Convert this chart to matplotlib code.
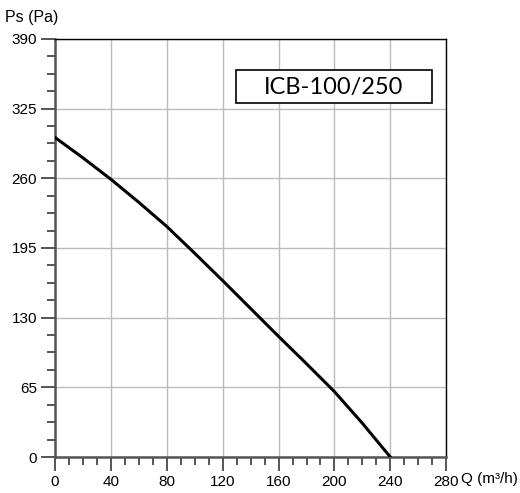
import numpy as np
import matplotlib.pyplot as plt
from matplotlib.patches import Rectangle
from matplotlib.ticker import MultipleLocator

# curve data
q = [0, 20, 40, 60, 80, 100, 120, 140, 160, 180, 200, 220, 240]
ps = [298, 279, 259, 237.5, 215, 190, 164.5, 138.5, 112.5, 87, 61, 31.5, 0]

x_ticks = [0, 40, 80, 120, 160, 200, 240, 280]
y_ticks = [0, 65, 130, 195, 260, 325, 390]
model = "ICB-100/250"

plt.rcParams['font.family'] = ['Liberation Sans', 'DejaVu Sans']

fig = plt.figure(figsize=(5.2, 4.93), dpi=100)
ax = fig.add_axes([0.106, 0.073, 0.752, 0.848])

ax.plot(q, ps, color='black', lw=2.2, solid_capstyle='round', zorder=3)

ax.set_xlim(0, 280)
ax.set_ylim(0, 390)
ax.set_xticks(x_ticks)
ax.set_yticks(y_ticks)
ax.xaxis.set_minor_locator(MultipleLocator(10))
ax.yaxis.set_minor_locator(MultipleLocator(65 / 4))

ax.grid(True, which='major', color='#bbbbbb', lw=1.0)
ax.set_axisbelow(True)

ax.tick_params(axis='both', which='major', direction='out', length=10, width=1.4,
               color='#555555', labelsize=11, pad=3)
ax.tick_params(axis='both', which='minor', direction='out', length=6, width=1.4,
               color='#555555')

for s in ['left', 'bottom']:
    ax.spines[s].set_color('#555555')
    ax.spines[s].set_linewidth(1.8)
for s in ['top', 'right']:
    ax.spines[s].set_color('black')
    ax.spines[s].set_linewidth(1.0)

fig.text(0.01, 0.965, "Ps (Pa)", fontsize=11.5, ha='left', va='center')
fig.text(0.995, 0.0275, "Q (m³/h)", fontsize=11, ha='right', va='center')

# model label box
ax.add_patch(Rectangle((129.5, 330), 140.5, 31, fc='white', ec='black', lw=1.2, zorder=4))
ax.text(199.5, 345, model, fontsize=17, family=['Lato', 'DejaVu Sans'],
        ha='center', va='center', zorder=5)

fig.savefig("out.png", dpi=100)
